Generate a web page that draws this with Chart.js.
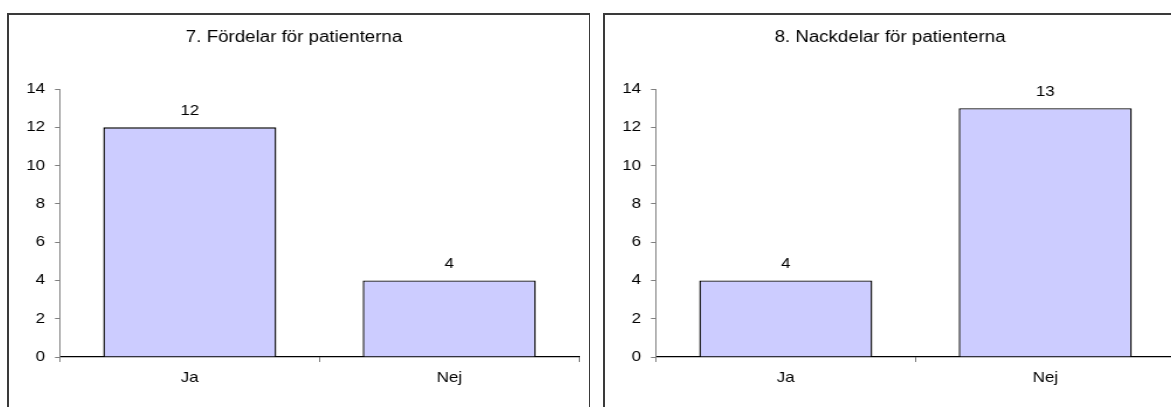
<!DOCTYPE html>
<html>
<head>
<meta charset="utf-8">
<script src="https://cdn.jsdelivr.net/npm/chart.js@4"></script>
<style>
  html, body { margin: 0; padding: 0; background: #fff; overflow: hidden; width: 1171px; height: 407px; }
  .box { position: absolute; top: 13px; height: 420px; border-top: 2px solid #3a3a3a; border-left: 2px solid #3a3a3a; }
  #boxLeft { left: 7px; width: 580px; border-right: 1px solid #3a3a3a; }
  #boxRight { left: 603px; width: 620px; }
  canvas { position: absolute; left: 0; top: 0; transform: scaleX(1.17); transform-origin: 0 0; }
</style>
</head>
<body>
<div class="box" id="boxLeft"><canvas id="chartLeft" width="496" height="392"></canvas></div>
<div class="box" id="boxRight"><canvas id="chartRight" width="496" height="392"></canvas></div>
<script>
  var categories = ['Ja', 'Nej'];
  var fordelarValues = [12, 4];
  var nackdelarValues = [4, 13];
  var yMin = 0, yMax = 14, yStep = 2;

  // text in the original is a bit wider than tall, canvas is stretched in css
  var STRETCH = 1.17;
  var TICK_SIZE = 14.5;

  Chart.defaults.font.family = '"Liberation Sans", Arial, sans-serif';
  Chart.defaults.color = '#000';

  var valueLabels = {
    id: 'valueLabels',
    afterDatasetsDraw: function(chart) {
      var ctx = chart.ctx;
      var meta = chart.getDatasetMeta(0);
      ctx.save();
      ctx.font = TICK_SIZE + 'px "Liberation Sans", Arial, sans-serif';
      ctx.fillStyle = '#000';
      ctx.textAlign = 'center';
      ctx.textBaseline = 'alphabetic';
      meta.data.forEach(function(bar, i) {
        ctx.fillText(String(chart.data.datasets[0].data[i]), bar.x, bar.y - 12);
      });
      ctx.restore();
    }
  };

  function makeChart(id, title, values) {
    var ctx = document.getElementById(id).getContext('2d');
    return new Chart(ctx, {
      type: 'bar',
      data: {
        labels: categories,
        datasets: [{
          data: values,
          backgroundColor: '#ccccff',
          borderColor: '#000',
          borderWidth: 1.4,
          barPercentage: 0.667,
          categoryPercentage: 1
        }]
      },
      options: {
        responsive: false,
        animation: false,
        layout: { padding: { left: 0, right: 8.8, top: 0, bottom: 0 } },
        plugins: {
          legend: { display: false },
          tooltip: { enabled: false },
          title: {
            display: true,
            text: title,
            color: '#000',
            font: { size: 16, weight: 'normal' },
            padding: { top: 13.4, bottom: 41.4 }
          }
        },
        scales: {
          x: {
            grid: { drawOnChartArea: false, drawTicks: true, tickLength: 5, tickColor: '#808080', offset: true },
            border: { color: '#000', width: 1.2 },
            ticks: { font: { size: TICK_SIZE }, padding: 7.5, color: '#000' },
            afterFit: function(scale) { scale.height = 50; }
          },
          y: {
            min: yMin,
            max: yMax,
            grid: { drawOnChartArea: false, drawTicks: true, tickLength: 4.3, tickColor: '#808080' },
            border: { color: '#808080', width: 1 },
            ticks: { stepSize: yStep, font: { size: TICK_SIZE }, padding: 8.5, color: '#000' },
            afterFit: function(scale) { scale.width = 51 / STRETCH; }
          }
        }
      },
      plugins: [valueLabels]
    });
  }

  makeChart('chartLeft', '7. Fördelar för patienterna', fordelarValues);
  makeChart('chartRight', '8. Nackdelar för patienterna', nackdelarValues);
</script>
</body>
</html>
